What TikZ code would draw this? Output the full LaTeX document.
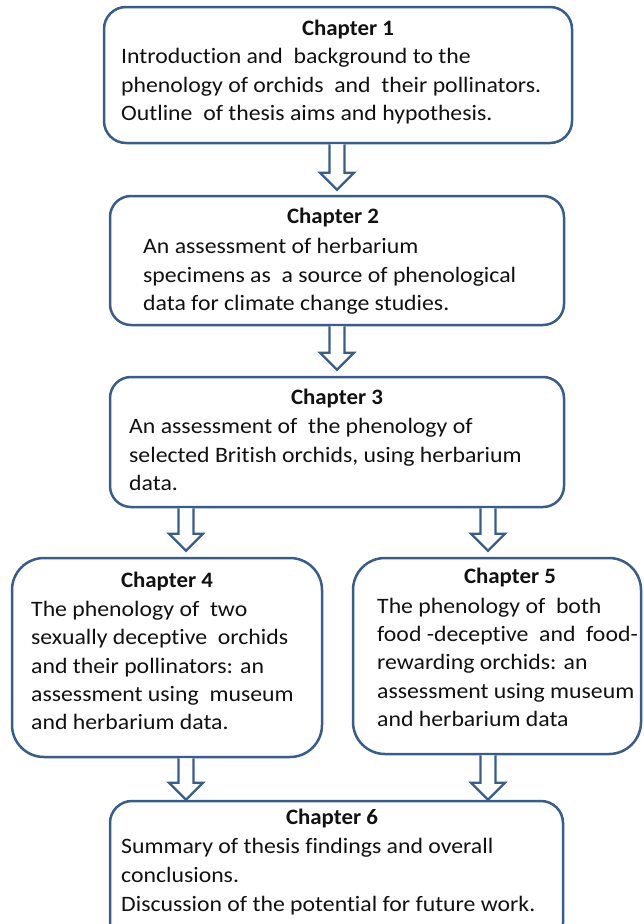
\documentclass[tikz,border=0pt]{standalone}
\usepackage{fontspec}
\setmainfont{Carlito}[Ligatures=NoCommon, FakeStretch=1.08, BoldFeatures={FakeStretch=1.04}]
\usetikzlibrary{calc}
\definecolor{edge}{HTML}{385D8A}
\definecolor{ink}{HTML}{111111}
\newcommand\blkarr[2]{%
  \draw[blk] let \p1=#1, \p2=#2 in
    (\x1-7.5pt,\y1) -- (\x1-7.5pt,\y2+17pt) -- (\x1-17pt,\y2+17pt) -- (\x1,\y2)
    -- (\x1+17pt,\y2+17pt) -- (\x1+7.5pt,\y2+17pt) -- (\x1+7.5pt,\y1);}
\tikzset{
  box/.style={draw=edge, line width=2.5pt, fill=white, inner sep=0pt},
  head/.style={font=\bfseries\fontsize{22}{28}\selectfont, text=ink, anchor=base, inner sep=0pt},
  body/.style={font=\fontsize{22}{28}\selectfont, text=ink, anchor=base west, inner sep=0pt},
  blk/.style={draw=edge, line width=2.2pt, fill=white, line join=miter},
}
\begin{document}
\begin{tikzpicture}[x=1pt,y=-1pt]
\useasboundingbox (0,0) rectangle (643,924);
% boxes
\node[box, rounded corners=22pt, minimum width=468pt, minimum height=136pt] (c1) at (338,75) {};
\node[box, rounded corners=21pt, minimum width=454pt, minimum height=129pt] (c2) at (337,260.5) {};
\node[box, rounded corners=21pt, minimum width=454pt, minimum height=130pt] (c3) at (337,442) {};
\node[box, rounded corners=32pt, minimum width=310pt, minimum height=199pt] (c4) at (167,657.5) {};
\node[box, rounded corners=32pt, minimum width=288pt, minimum height=196pt] (c5) at (497,656) {};
\node[box, rounded corners=22pt, minimum width=453pt, minimum height=144pt] (c6) at (336.5,873) {};
% chapter 1
\node[head] (h1) at (348,35) {Chapter 1};
\node[body] (t1a) at (121,63) {Introduction and~ background to the};
\node[body] (t1b) at (121,92) {phenology of orchids~ and~ their pollinators.};
\node[body] (t1c) at (121,120) {Outline~ of thesis aims and hypothesis.};
% chapter 2
\node[head] (h2) at (333,223) {Chapter 2};
\node[body] (t2a) at (143,253) {An assessment of herbarium};
\node[body] (t2b) at (143,282) {specimens as~ a source of phenological};
\node[body] (t2c) at (143,310) {data for climate change studies.};
% chapter 3
\node[head] (h3) at (337,404) {Chapter 3};
\node[body] (t3a) at (129,433) {An assessment of~ the phenology of};
\node[body] (t3b) at (129,462) {selected British orchids, using herbarium};
\node[body] (t3c) at (129,490) {data.};
% chapter 4
\node[head] (h4) at (167,587) {Chapter 4};
\node[body] (t4a) at (31,616) {The phenology of~ two};
\node[body] (t4b) at (31,644) {sexually deceptive~ orchids};
\node[body] (t4c) at (31,673) {and their pollinators: an};
\node[body] (t4d) at (31,701) {assessment using~ museum};
\node[body] (t4e) at (31,729) {and herbarium data.};
% chapter 5
\node[head] (h5) at (510,583) {Chapter 5};
\node[body] (t5a) at (377,613) {The phenology of~ both};
\node[body] (t5b) at (377,641) {food -deceptive~ and~ food-};
\node[body] (t5c) at (377,669) {rewarding orchids: an};
\node[body] (t5d) at (377,698) {assessment using museum};
\node[body] (t5e) at (377,726) {and herbarium data};
% chapter 6
\node[head] (h6) at (332,824) {Chapter 6};
\node[body] (t6a) at (121,853) {Summary of thesis findings and overall};
\node[body] (t6b) at (121,882) {conclusions.};
\node[body] (t6c) at (121,911) {Discussion of the potential for future work.};
% arrows
\coordinate (l) at (186,0);
\coordinate (r) at (488,0);
\coordinate (m) at (337,0);
\blkarr{(c1.south -| m)}{($(c2.north -| m)+(0,-5)$)}
\blkarr{(c2.south -| m)}{($(c3.north -| m)+(0,-6)$)}
\blkarr{(c3.south -| l)}{($(c4.north -| l)+(0,-6)$)}
\blkarr{(c3.south -| r)}{($(c5.north -| r)+(0,-6)$)}
\blkarr{(c4.south -| l)}{(c6.north -| l)}
\blkarr{(c5.south -| r)}{(c6.north -| r)}
\end{tikzpicture}
\end{document}
